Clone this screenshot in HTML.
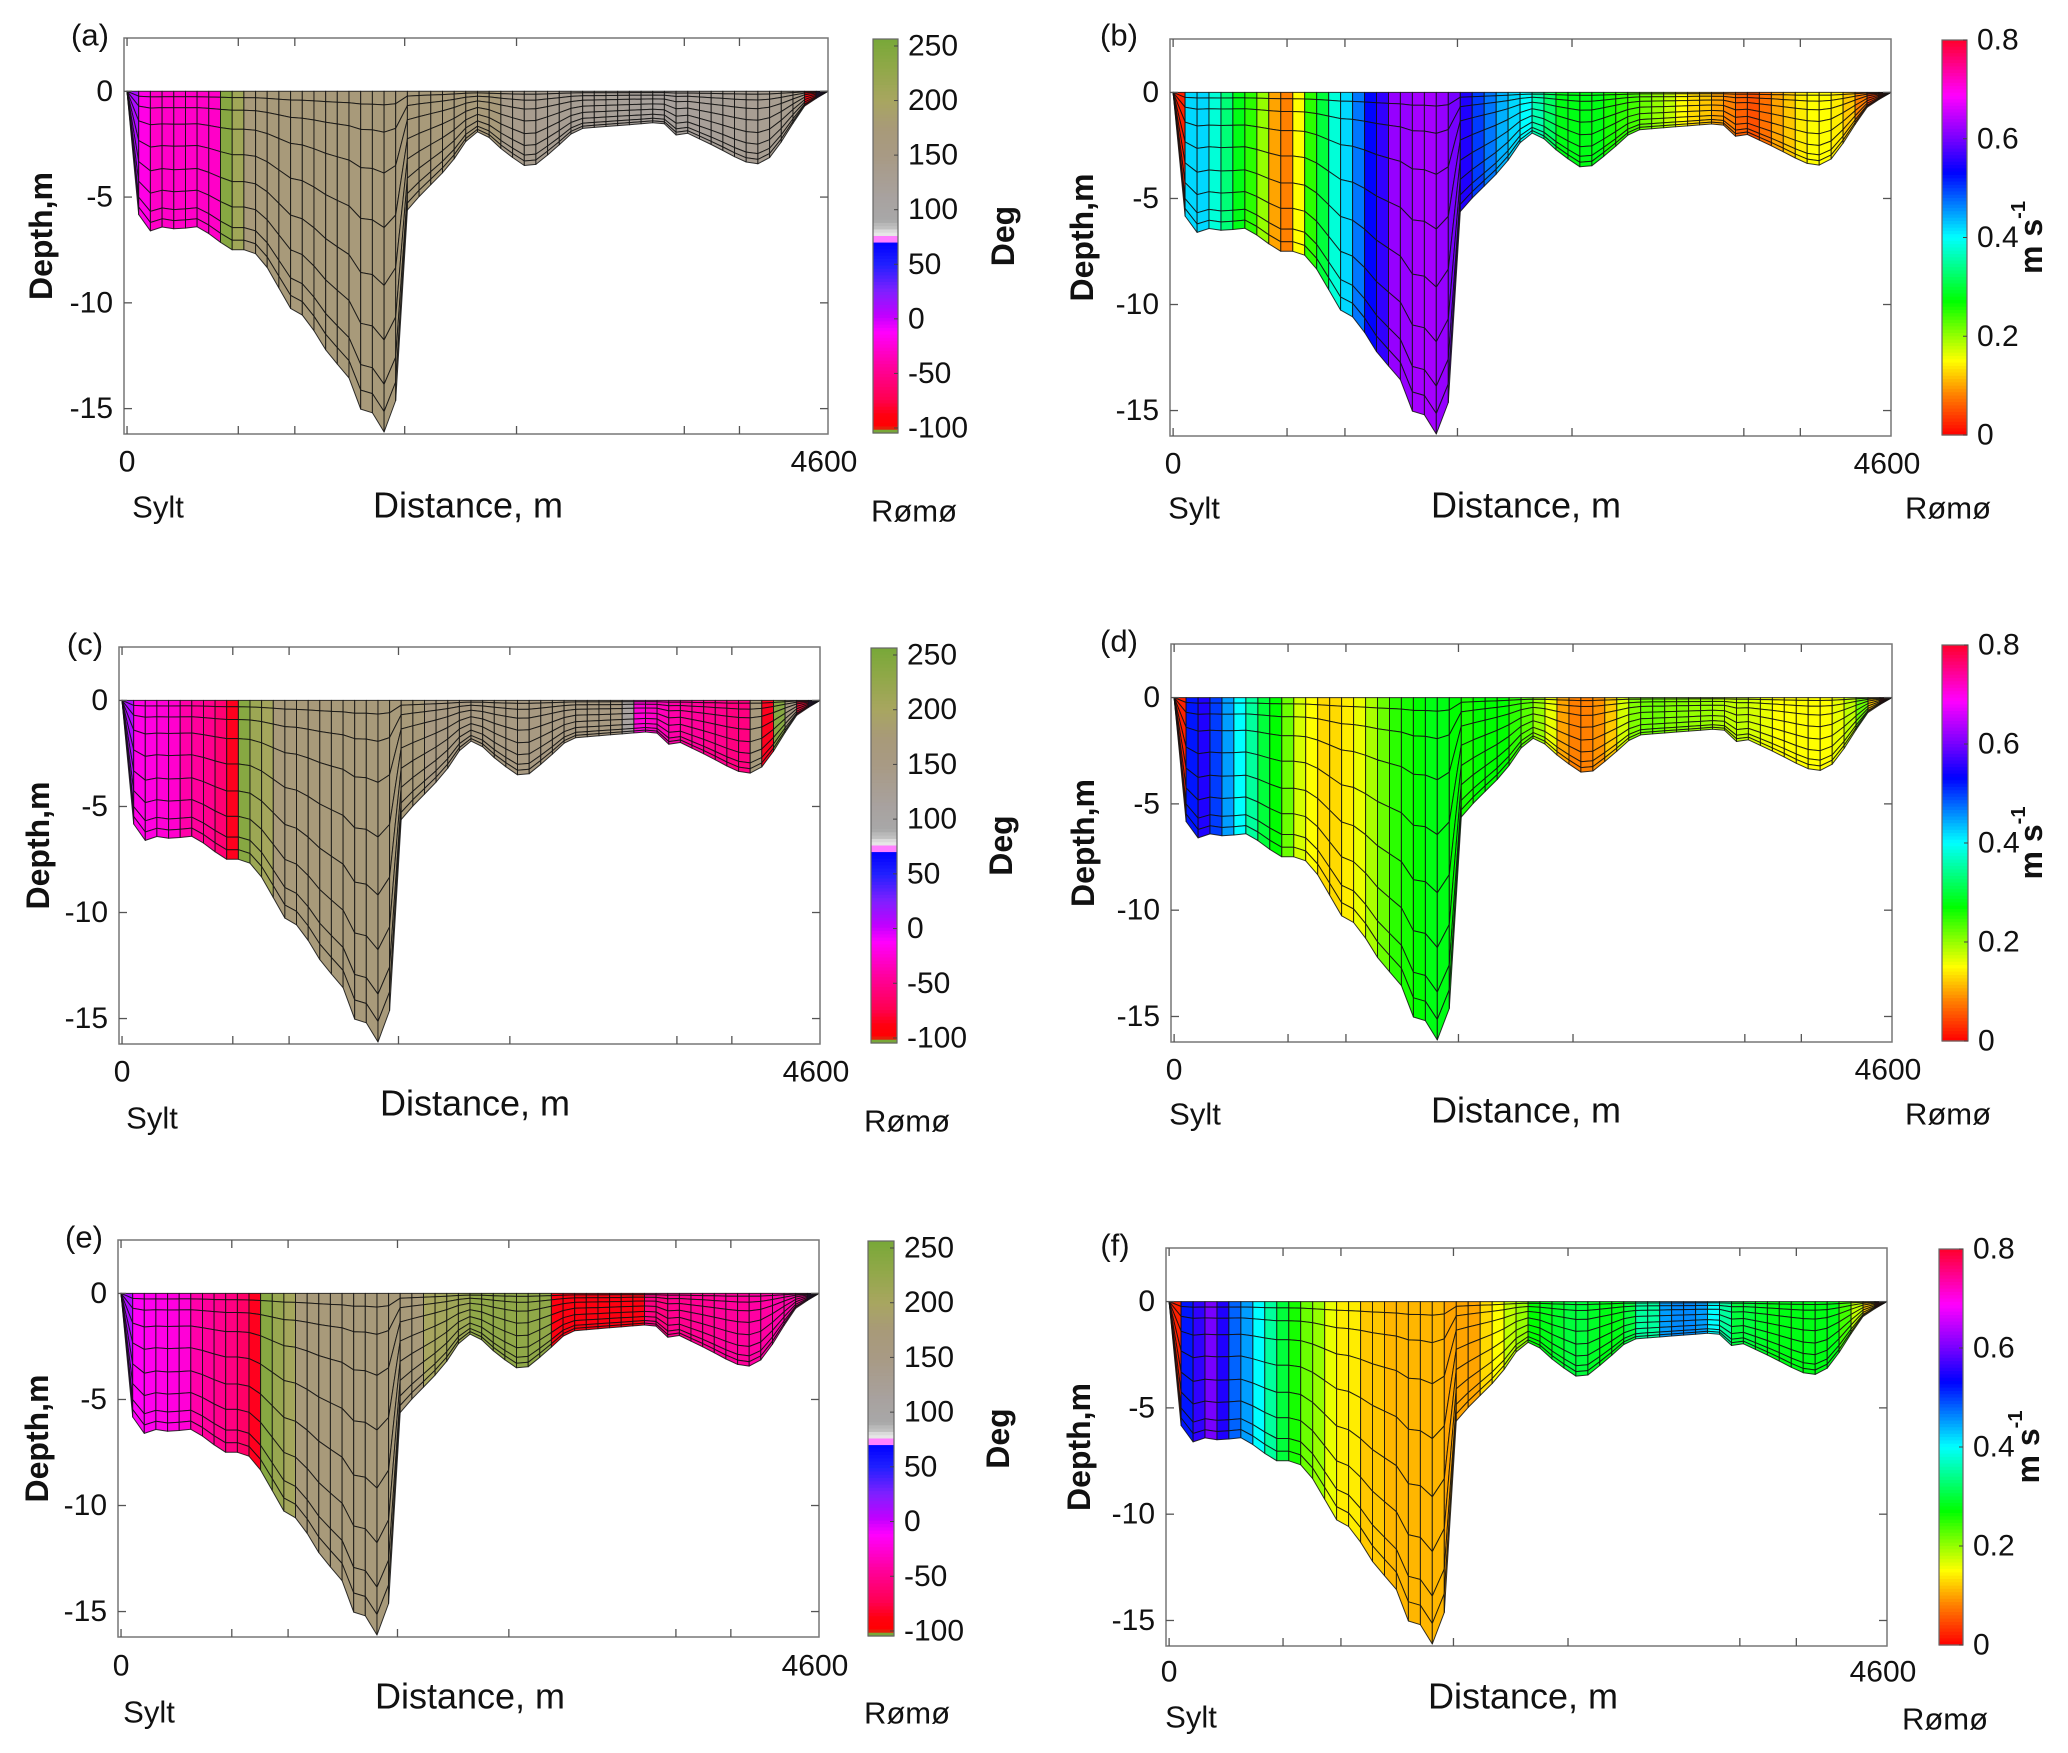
<!DOCTYPE html>
<html><head><meta charset="utf-8"><title>Sylt–Rømø cross-section</title>
<style>
html,body{margin:0;padding:0;background:#fff;}
svg{display:block;}
text{font-family:"Liberation Sans",Arial,sans-serif;fill:#111;}
</style></head>
<body>
<svg id="fig" width="2068" height="1753" viewBox="0 0 2068 1753" xmlns="http://www.w3.org/2000/svg"></svg>
<script>
// ---- data ----
const bathyDist = [0,74,153,218,306,415,459,590,664,730,874,1092,1166,1310,1463,1542,1616,1690,1769,1813,1900,2118,2258,2328,2468,2600,2665,2796,2949,3080,3430,3517,3582,3670,3866,4041,4128,4216,4303,4434,4521,4600];
const bathyDepth = [0,-5.8,-6.6,-6.4,-6.5,-6.45,-6.4,-6.95,-7.55,-7.4,-7.75,-10.5,-10.6,-12.3,-13.6,-15.2,-15.2,-16.15,-14.5,-5.85,-5.1,-3.5,-2.0,-1.86,-2.8,-3.5,-3.56,-2.8,-1.78,-1.7,-1.5,-1.44,-2.1,-1.95,-2.63,-3.3,-3.47,-3.14,-2.3,-0.76,-0.34,0];
const sigmaLevels = [0,0.04,0.12,0.24,0.4,0.57,0.73,0.86,0.94,1];
const nCols = 60;
const valuesA = [10,-20,-30,-30,-30,-30,-30,-30,240,210,170,170,170,170,170,170,170,170,170,170,170,170,170,170,170,170,170,170,170,170,170,170,140,138,135,133,130,128,126,125,124,122,120,118,116,115,115,116,118,120,122,124,126,128,130,132,135,140,-90,20];
const valuesB = [0.02,0.42,0.42,0.38,0.33,0.28,0.25,0.2,0.1,0.08,0.15,0.25,0.3,0.38,0.42,0.47,0.53,0.56,0.62,0.62,0.63,0.63,0.62,0.6,0.55,0.5,0.47,0.44,0.42,0.4,0.36,0.32,0.28,0.28,0.28,0.28,0.26,0.25,0.24,0.22,0.2,0.18,0.15,0.13,0.12,0.1,0.08,0.06,0.05,0.07,0.1,0.12,0.14,0.15,0.15,0.14,0.12,0.08,0.04,0.02];
const valuesC = [10,-20,-22,-25,-28,-40,-45,-50,-60,-85,240,215,205,170,170,170,170,170,170,170,170,170,170,170,170,170,155,155,155,155,155,155,155,155,155,155,155,155,155,155,155,155,155,110,-25,-30,-35,-40,-45,-45,-50,-50,-55,-55,165,-85,240,150,-80,15];
const valuesD = [0.02,0.52,0.55,0.5,0.45,0.4,0.35,0.3,0.27,0.22,0.17,0.15,0.13,0.13,0.14,0.16,0.19,0.22,0.25,0.26,0.27,0.28,0.28,0.27,0.26,0.27,0.27,0.27,0.25,0.23,0.2,0.16,0.1,0.08,0.08,0.09,0.12,0.17,0.21,0.22,0.22,0.21,0.21,0.2,0.2,0.19,0.18,0.18,0.17,0.16,0.15,0.15,0.15,0.15,0.15,0.16,0.18,0.22,0.12,0.02];
const valuesE = [10,-15,-18,-20,-22,-25,-40,-45,-50,-55,-65,-85,240,220,205,170,170,170,170,170,170,170,170,170,170,170,200,205,210,215,230,230,230,230,230,230,230,-88,-88,-88,-88,-88,-88,-88,-88,-55,-55,-50,-50,-48,-48,-45,-45,-45,-42,-42,-40,-40,-45,15];
const valuesF = [0.02,0.52,0.56,0.6,0.55,0.48,0.45,0.4,0.35,0.3,0.26,0.22,0.2,0.16,0.14,0.14,0.12,0.12,0.11,0.11,0.11,0.11,0.11,0.1,0.1,0.1,0.13,0.15,0.18,0.2,0.27,0.28,0.29,0.3,0.3,0.29,0.28,0.28,0.3,0.35,0.35,0.45,0.46,0.46,0.45,0.4,0.35,0.3,0.3,0.29,0.28,0.28,0.28,0.28,0.28,0.28,0.24,0.18,0.12,0.02];
const degTicks = [250,200,150,100,50,0,-50,-100];
const speedTicks = [0,0.2,0.4,0.6,0.8];
const depthTicks = [0,-5,-10,-15];
const xTickDist = [0,730,1101,1822,2556,3657,4019];

// ---- layout ----
const panels = [
 {id:'a',vals:valuesA,type:'deg',L:124,T:38,W:704,H:396,cbL:873,cbR:898,lx:90,ly:35,dx:41,zy:462,disY:505,sy:507,ry:511,sx:158,rx:914,disX:468},
 {id:'b',vals:valuesB,type:'spd',L:1170,T:39,W:721,H:397,cbL:1942,cbR:1967,lx:1119,ly:35,dx:1082,zy:464,disY:505,sy:508,ry:508,sx:1194,rx:1948,disX:1526},
 {id:'c',vals:valuesC,type:'deg',L:119,T:647,W:701,H:397,cbL:871,cbR:897,lx:85,ly:644,dx:38,zy:1072,disY:1103,sy:1118,ry:1121,sx:152,rx:907,disX:475},
 {id:'d',vals:valuesD,type:'spd',L:1171,T:644,W:721,H:398,cbL:1942,cbR:1968,lx:1119,ly:641,dx:1083,zy:1070,disY:1110,sy:1114,ry:1114,sx:1195,rx:1948,disX:1526},
 {id:'e',vals:valuesE,type:'deg',L:118,T:1240,W:701,H:397,cbL:868,cbR:894,lx:84,ly:1237,dx:37,zy:1666,disY:1696,sy:1712,ry:1713,sx:149,rx:907,disX:470},
 {id:'f',vals:valuesF,type:'spd',L:1166,T:1248,W:721,H:398,cbL:1939,cbR:1963,lx:1115,ly:1245,dx:1079,zy:1672,disY:1696,sy:1717,ry:1719,sx:1191,rx:1945,disX:1523}
];
const XMIN=-20, XMAX=4600, ZTOP=2.52, ZBOT=-16.2;
const DEGMAX=256.4, DEGMIN=-104.6;
const NS='http://www.w3.org/2000/svg';
const svg=document.getElementById('fig');

function interp(xs,ys,x){
  if(x<=xs[0])return ys[0];
  for(let i=1;i<xs.length;i++){ if(x<=xs[i]){const t=(x-xs[i-1])/(xs[i]-xs[i-1]);return ys[i-1]+t*(ys[i]-ys[i-1]);} }
  return ys[ys.length-1];
}
function hex(c){return [parseInt(c.slice(1,3),16),parseInt(c.slice(3,5),16),parseInt(c.slice(5,7),16)];}
const degStops=[[-104.6,'#78a838'],[-100.5,'#78a838'],[-100,'#ff0000'],[-88,'#ff0010'],[-74,'#ff0050'],[-43,'#ff00a0'],[-12,'#ff00ff'],[3,'#c000ff'],[25,'#8020ff'],[50,'#2020ff'],[70,'#0000ff'],[71,'#ff80ff'],[75,'#ff80ff'],[76,'#eaeaea'],[80,'#e0e0e0'],[82,'#c4c4c4'],[88,'#b4b4b4'],[90,'#a8a8a8'],[110,'#a8a2a0'],[150,'#a89a84'],[175,'#a89a78'],[200,'#a8a660'],[230,'#90a848'],[256.4,'#78a838']];
function degColor(v){
  for(let i=1;i<degStops.length;i++){ if(v<=degStops[i][0]){const a=degStops[i-1],b=degStops[i];const t=(v-a[0])/(b[0]-a[0]||1);const ca=hex(a[1]),cb=hex(b[1]);return 'rgb('+ca.map((c,k)=>Math.round(c+t*(cb[k]-c))).join(',')+')';} }
  return degStops[degStops.length-1][1];
}
const hueStops=[[0,0],[0.08,30],[0.15,60],[0.27,120],[0.4,180],[0.52,235],[0.6,268],[0.7,305],[0.8,350]];
function spdColor(v){
  let h=350;
  for(let i=1;i<hueStops.length;i++){ if(v<=hueStops[i][0]){const a=hueStops[i-1],b=hueStops[i];h=a[1]+(v-a[0])/(b[0]-a[0])*(b[1]-a[1]);break;} }
  if(v<=0)h=0;
  return 'hsl('+h.toFixed(1)+',100%,50%)';
}
function mk(tag,attrs,parent){const e=document.createElementNS(NS,tag);for(const k in attrs)e.setAttribute(k,attrs[k]);(parent||svg).appendChild(e);return e;}
function txt(s,x,y,size,parent,extra){const t=mk('text',Object.assign({x:x,y:y,'font-size':size,'dominant-baseline':'central'},extra||{}),parent);t.textContent=s;return t;}

panels.forEach(p=>{
  const g=mk('g',{});
  
  
  const xs=d=>p.L+(d-XMIN)/(XMAX-XMIN)*p.W;
  const ys=z=>p.T+(ZTOP-z)/(ZTOP-ZBOT)*p.H;
  const cmap=p.type==='deg'?degColor:spdColor;
  // cells
  const cells=mk('g',{},g);
  
  
  const colW=4600/nCols;
  for(let j=0;j<nCols;j++){
    const d0=j*colW,d1=(j+1)*colW;
    const h0=interp(bathyDist,bathyDepth,d0),h1=interp(bathyDist,bathyDepth,d1);
    const fill=cmap(p.vals[j]);
    for(let k=0;k<sigmaLevels.length-1;k++){
      const s0=sigmaLevels[k],s1=sigmaLevels[k+1];
      const pts=[[xs(d0),ys(h0*s0)],[xs(d1),ys(h1*s0)],[xs(d1),ys(h1*s1)],[xs(d0),ys(h0*s1)]];
      const poly=mk('polygon',{points:pts.map(q=>q[0].toFixed(1)+','+q[1].toFixed(1)).join(' '),fill:fill,stroke:'#111','stroke-width':'1','stroke-opacity':'0.85','stroke-linejoin':'round'},cells);
      
      
    }
  }
  // axes box
  const box=mk('rect',{x:p.L,y:p.T,width:p.W,height:p.H,fill:'none',stroke:'#777','stroke-width':'1.5'},g);
  
  
  xTickDist.forEach(d=>{
    const x=xs(d);
    const t1=mk('line',{x1:x,x2:x,y1:p.T+p.H,y2:p.T+p.H-8,stroke:'#555','stroke-width':'1.3'},g);
    
    
    const t2=mk('line',{x1:x,x2:x,y1:p.T,y2:p.T+8,stroke:'#555','stroke-width':'1.3'},g);
    
    
  });
  depthTicks.forEach(z=>{
    const y=ys(z);
    const t1=mk('line',{x1:p.L,x2:p.L+8,y1:y,y2:y,stroke:'#555','stroke-width':'1.3'},g);
    
    
    const t2=mk('line',{x1:p.L+p.W,x2:p.L+p.W-8,y1:y,y2:y,stroke:'#555','stroke-width':'1.3'},g);
    
    
    const lb=txt(String(z),p.L-11,y,30,g,{'text-anchor':'end'});
    
    
  });
  const x0=txt('0',xs(0),p.zy,30,g,{'text-anchor':'middle'});
  
  
  const x1=txt('4600',xs(4600)-4,p.zy,30,g,{'text-anchor':'middle'});
  
  
  const dl=txt('Distance, m',p.disX,p.disY,36,g,{'text-anchor':'middle'});
  
  
  const sl=txt('Sylt',p.sx,p.sy,31,g,{'text-anchor':'middle'});
  
  
  const rl=txt('Rømø',p.rx,p.ry,31,g,{'text-anchor':'middle'});
  
  
  const cy=p.T+p.H/2;
  const yl=txt('Depth,m',0,0,32,g,{'text-anchor':'middle','font-weight':'bold',transform:'translate('+p.dx+','+cy+') rotate(-90)'});
  
  
  const pl=txt('('+p.id+')',p.lx,p.ly,31,g,{'text-anchor':'middle'});
  
  
  // colorbar
  const cb=mk('g',{},g);
  
  
  const cT=p.T+1,cB=p.T+p.H-1,n=120;
  const vmin=p.type==='deg'?DEGMIN:0, vmax=p.type==='deg'?DEGMAX:0.8;
  for(let i=0;i<n;i++){
    const v=vmax-(i+0.5)/n*(vmax-vmin);
    const r=mk('rect',{x:p.cbL,y:(cT+i*(cB-cT)/n).toFixed(2),width:p.cbR-p.cbL,height:((cB-cT)/n+0.6).toFixed(2),fill:cmap(v)},cb);
    
    
  }
  mk('rect',{x:p.cbL,y:cT,width:p.cbR-p.cbL,height:cB-cT,fill:'none',stroke:'#666','stroke-width':'1.2'},cb);
  const cyv=v=>cT+(vmax-v)/(vmax-vmin)*(cB-cT);
  (p.type==='deg'?degTicks:speedTicks).forEach(v=>{
    const y=cyv(v);
    mk('line',{x1:p.cbR,x2:p.cbR-4,y1:y,y2:y,stroke:'#444','stroke-width':'1'},cb);
    const lb=txt(String(v),p.cbR+10,y,30,cb,{'text-anchor':'start'});
    
    
  });
  const ccy=(cT+cB)/2;
  if(p.type==='deg'){
    const ct=txt('Deg',0,0,32,cb,{'text-anchor':'middle','font-weight':'bold',transform:'translate('+(p.cbL+130)+','+ccy+') rotate(-90)'});
    
    
  } else {
    const ct=mk('text',{x:0,y:0,'font-size':32,'font-weight':'bold','text-anchor':'middle','dominant-baseline':'central',transform:'translate('+(p.cbL+89)+','+ccy+') rotate(-90)'},cb);
    
    
    const a=document.createElementNS(NS,'tspan');a.textContent='m s';ct.appendChild(a);
    const b=document.createElementNS(NS,'tspan');b.setAttribute('dy','-12');b.setAttribute('font-size','20');b.textContent='-1';ct.appendChild(b);
  }
});
</script>
</body></html>
